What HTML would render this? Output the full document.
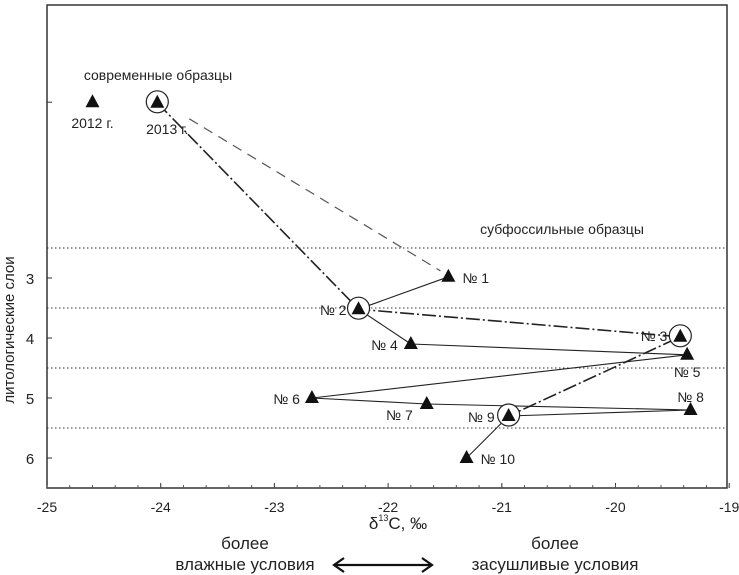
<!DOCTYPE html>
<html><head><meta charset="utf-8"><style>
body{margin:0;background:#fff;font-family:"Liberation Sans",sans-serif;}
svg{display:block}
</style></head><body>
<svg id="c" width="739" height="575"></svg>
<script>
const names=["2012 г.","2013 г.","№ 1","№ 2","№ 3","№ 4","№ 5","№ 6","№ 7","№ 8","№ 9","№ 10"];
const d13C=[-24.6,-24.03,-21.47,-22.26,-19.43,-21.8,-19.37,-22.67,-21.66,-19.34,-20.94,-21.31];
const layer=[0.07,0.08,2.98,3.52,3.98,4.1,4.28,5.0,5.1,5.2,5.3,6.0];
const circled=[1,3,4,10];
const solidPairs=[[2,3],[3,5],[5,6],[6,7],[7,8],[8,9],[9,10],[10,11]];
const dashDotPath=[1,3,4,10];
const xTicks=[-25,-24,-23,-22,-21,-20,-19];
const yTicks=[3,4,5,6];
const gridLayers=[2.5,3.5,4.5,5.5];
const NS="http://www.w3.org/2000/svg";
const svg=document.getElementById('c');
const X=v=>47+(v+25)*113.7;
const Y=v=>278+(v-3)*60;
function el(t,a,p){const e=document.createElementNS(NS,t);for(const k in a)e.setAttribute(k,a[k]);(p||svg).appendChild(e);return e;}
function txt(x,y,s,size,anchor,name){const t=el('text',{x:x,y:y,'font-size':size,'text-anchor':anchor||'middle',fill:'#222'});t.textContent=s;

return t;}
gridLayers.forEach(g=>{const l=el('line',{x1:47,x2:727,y1:Y(g),y2:Y(g),stroke:'#333','stroke-dasharray':'1.5 2.5','stroke-width':1});

});
const fr=el('rect',{x:47,y:5,width:680,height:483,fill:'none',stroke:'#333','stroke-width':1.5});


xTicks.forEach(t=>{el('line',{x1:X(t),x2:X(t),y1:488,y2:483,stroke:'#333'});txt(X(t),512,String(t),14,'middle','x-tick-label');});
for(let t=-25;t<=-19;t+=0.2){el('line',{x1:X(t),x2:X(t),y1:488,y2:485,stroke:'#555'});}
yTicks.forEach(t=>{el('line',{x1:47,x2:52,y1:Y(t),y2:Y(t),stroke:'#333'});txt(30,Y(t)+6,String(t),15,'middle','y-tick-label');});
el('line',{x1:47,x2:52,y1:Y(0.07),y2:Y(0.07),stroke:'#333'});
solidPairs.forEach(p=>{const l=el('line',{x1:X(d13C[p[0]]),y1:Y(layer[p[0]]),x2:X(d13C[p[1]]),y2:Y(layer[p[1]]),stroke:'#222','stroke-width':1.1});

});
const dd=el('line',{x1:X(d13C[1])+32,y1:Y(layer[1])+16,x2:X(d13C[2])-8,y2:Y(layer[2])-6,stroke:'#555','stroke-width':1.2,'stroke-dasharray':'10 7'});


const pts=dashDotPath.map(i=>X(d13C[i])+','+Y(layer[i])).join(' ');
const dp=el('polyline',{points:pts,fill:'none',stroke:'#222','stroke-width':1.6,'stroke-dasharray':'14 3 2 3'});


const labOff=[[0,26,'middle'],[10,31,'middle'],[14,6,'start'],[-12,6,'end'],[-13,4,'end'],[-13,6,'end'],[0,22,'middle'],[-12,6,'end'],[-14,16,'end'],[0,-8,'middle'],[-14,6,'end'],[14,6,'start']];
names.forEach((n,i)=>{const x=X(d13C[i]),y=Y(layer[i]);
if(circled.includes(i)){const c=el('circle',{cx:x,cy:y-1,r:11,fill:'#fff',stroke:'#222','stroke-width':1.2});

}
const m=el('polygon',{points:`${x},${y-8} ${x-7},${y+5} ${x+7},${y+5}`,fill:'#111'});


const o=labOff[i];txt(x+o[0],y+o[1],n,14,o[2],'point-label');});
txt(158,80,'современные образцы',14,'middle','modern-group-label');
txt(562,234,'субфоссильные образцы',14,'middle','subfossil-group-label');
const yt=txt(0,0,'литологические слои',15,'middle','y-axis-title');yt.setAttribute('transform','translate(14,330) rotate(-90)');
const xt=txt(398,529,'δ',17,'middle','x-axis-title');
const sp=el('tspan',{'font-size':9,dy:-8},xt);sp.textContent='13';
const sp2=el('tspan',{dy:8},xt);sp2.textContent='C, ‰';
txt(245,549,'более',17,'middle','wet-label');txt(245,570,'влажные условия',17,'middle','wet-label');
txt(555,549,'более',17,'middle','dry-label');txt(555,570,'засушливые условия',17,'middle','dry-label');
const ar=el('g',{stroke:'#111','stroke-width':2.2,fill:'none'});


el('line',{x1:334,x2:432,y1:565,y2:565},ar);
el('polyline',{points:'344,558 334,565 344,572'},ar);
el('polyline',{points:'422,558 432,565 422,572'},ar);
</script>
</body></html>
